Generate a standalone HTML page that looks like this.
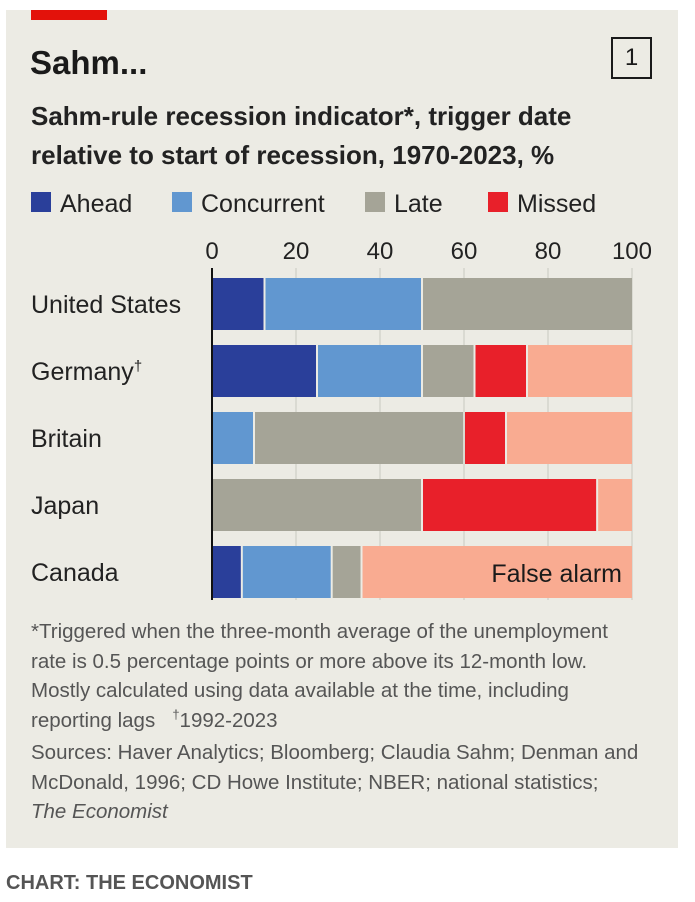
<!DOCTYPE html>
<html><head><meta charset="utf-8"><style>
body{margin:0;width:695px;height:902px;background:#fff;position:relative;overflow:hidden;font-family:"Liberation Sans Narrow","Liberation Sans",sans-serif;color:#1a1a1a}
.card{position:absolute;left:6px;top:10px;width:672px;height:838px;background:#ecebe4}
.t{position:absolute;white-space:nowrap}
.sup{position:relative;top:-8px;font-size:13px}
</style></head><body>
<div class="card"></div>
<div class="t" style="left:31px;top:10px;width:76px;height:10px;background:#e3120b"></div>
<div class="t" style="left:30px;top:44px;font-size:33px;font-weight:bold">Sahm...</div>
<div class="t" style="left:611px;top:37px;width:37px;height:38px;border:2px solid #1a1a1a;font-size:24px;text-align:center;line-height:38px">1</div>
<div class="t" style="left:31px;top:97px;font-size:26px;font-weight:bold;line-height:39px;color:#222">Sahm-rule recession indicator*, trigger date<br>relative to start of recession, 1970-2023, %</div>
<svg class="t" style="left:0;top:0" width="695" height="902" id="svg"></svg>
<div class="t" style="left:31px;top:617px;font-size:20.5px;line-height:29.7px;color:#555">*Triggered when the three-month average of the unemployment<br>rate is 0.5 percentage points or more above its 12-month low.<br>Mostly calculated using data available at the time, including<br>reporting lags &nbsp;&nbsp;<span class="sup">†</span>1992-2023<br>Sources: Haver Analytics; Bloomberg; Claudia Sahm; Denman and<br>McDonald, 1996; CD Howe Institute; NBER; national statistics;<br><i>The Economist</i></div>
<div class="t" style="left:6px;top:872px;font-size:20px;font-weight:bold;color:#555">CHART: THE ECONOMIST</div>
<script>
const countries=["United States","Germany","Britain","Japan","Canada"];
const seriesNames=["Ahead","Concurrent","Late","Missed","False alarm"];
const ahead=[12.5,25,0,0,7.1];
const concurrent=[37.5,25,10,0,21.4];
const late=[50,12.5,50,50,7.1];
const missed=[0,12.5,10,41.7,0];
const falseAlarm=[0,25,30,8.3,64.4];
const ticks=[0,20,40,60,80,100];
const colors=["#2a3f9a","#6197d0","#a5a497","#e8202a","#f9ab91"];
const NS="http://www.w3.org/2000/svg";
const svg=document.getElementById('svg');
const x=v=>212+v*4.2;
const y=i=>278+i*67;
const bh=52;
function mk(tag,attrs){const e=document.createElementNS(NS,tag);for(const k in attrs)e.setAttribute(k,attrs[k]);svg.appendChild(e);return e;}
ticks.forEach(t=>{
 const g=mk('line',{x1:x(t),x2:x(t),y1:268,y2:600,stroke:'#c9c8c0','stroke-width':1});
 
 
 const l=mk('text',{x:x(t),y:259,'text-anchor':t===100?'end':'middle','font-size':24,fill:'#222','font-family':'"Liberation Sans Narrow","Liberation Sans",sans-serif'});
 if(t===100)l.setAttribute('x',x(t)+20);
 l.textContent=t;
 
 
});
const legX=[31,172,365,488];
seriesNames.slice(0,4).forEach((n,i)=>{
 const r=mk('rect',{x:legX[i],y:192,width:20,height:20,fill:colors[i]});
 
 
 const t=mk('text',{x:legX[i]+29,y:212,'font-size':25,fill:'#222','font-family':'"Liberation Sans Narrow","Liberation Sans",sans-serif'});
 t.textContent=n;
 
 
});
const all=[ahead,concurrent,late,missed,falseAlarm];
countries.forEach((c,i)=>{
 const lab=mk('text',{x:31,y:y(i)+bh/2+9,'font-size':25,fill:'#222','font-family':'"Liberation Sans Narrow","Liberation Sans",sans-serif'});
 lab.textContent=c;
 if(c==="Germany"){const s=document.createElementNS(NS,'tspan');s.setAttribute('dy','-9');s.setAttribute('font-size','15');s.textContent='†';lab.appendChild(s);}
 
 
 let cum=0;
 all.forEach((arr,s)=>{
  const v=arr[i];
  if(v>0){
   const r=mk('rect',{x:x(cum)+(cum>0?1:0),y:y(i),width:Math.max(0,x(cum+v)-x(cum)-(cum>0?1:0)-(cum+v<99.9?1:0)),height:bh,fill:colors[s]});
   
   
  }
  cum+=arr[i];
 });
});
const fa=mk('text',{x:x(100)-10,y:y(4)+bh/2+10,'text-anchor':'end','font-size':25,fill:'#1a1a1a','font-family':'"Liberation Sans Narrow","Liberation Sans",sans-serif'});
fa.textContent='False alarm';


const ax=mk('line',{x1:x(0),x2:x(0),y1:268,y2:600,stroke:'#111','stroke-width':2});


</script>
</body></html>
